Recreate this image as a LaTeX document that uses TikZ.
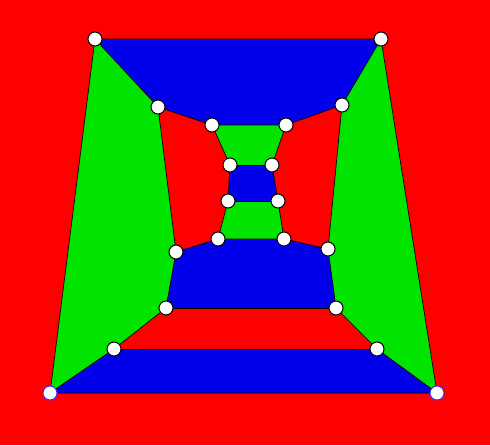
\documentclass[tikz,border=0pt]{standalone}
\usepackage{tikz}
\definecolor{mapred}{RGB}{255,0,0}
\definecolor{mapblue}{RGB}{0,0,235}
\definecolor{mapgreen}{RGB}{0,228,0}

\begin{document}
\begin{tikzpicture}[
    x=1pt, y=-1pt,
    vertex/.style={circle, draw, fill=white, line width=1pt, inner sep=0pt, minimum size=14pt},
    corner/.style={vertex, draw=blue!80},
    edge/.style={line width=0.7pt, black}
]

% Background
\fill[mapred] (0,0) rectangle (490,445);
\useasboundingbox (0,0) rectangle (490,445);

% Vertex positions
\coordinate (a) at (95,39);
\coordinate (f) at (381,39);
\coordinate (b) at (158,107);
\coordinate (g) at (342,105);
\coordinate (c) at (212,125);
\coordinate (h) at (286,125);
\coordinate (d) at (230,165);
\coordinate (i) at (272,165);
\coordinate (e) at (228,201);
\coordinate (j) at (278,201);
\coordinate (l) at (218,239);
\coordinate (p) at (284,239);
\coordinate (k) at (176,252);
\coordinate (q) at (328,249);
\coordinate (m) at (166,308);
\coordinate (r) at (336,308);
\coordinate (n) at (114,349);
\coordinate (s) at (377,349);
\coordinate (o) at (50,393);
\coordinate (t) at (437,393);

% Faces
\fill[mapblue] (a) -- (f) -- (g) -- (h) -- (c) -- (b) -- cycle;
\fill[mapgreen] (a) -- (b) -- (k) -- (m) -- (n) -- (o) -- cycle;
\fill[mapgreen] (f) -- (g) -- (q) -- (r) -- (s) -- (t) -- cycle;
\fill[mapblue] (o) -- (n) -- (s) -- (t) -- cycle;
\fill[mapblue] (k) -- (l) -- (p) -- (q) -- (r) -- (m) -- cycle;
\fill[mapgreen] (c) -- (h) -- (i) -- (d) -- cycle;
\fill[mapblue] (d) -- (i) -- (j) -- (e) -- cycle;
\fill[mapgreen] (e) -- (j) -- (p) -- (l) -- cycle;

% Edges
\draw[edge] (a) -- (f) -- (t) -- (o) -- (a);
\draw[edge] (a) -- (b) -- (c) -- (h) -- (g) -- (f);
\draw[edge] (b) -- (k) -- (m) -- (n) -- (o);
\draw[edge] (g) -- (q) -- (r) -- (s) -- (t);
\draw[edge] (n) -- (s);
\draw[edge] (m) -- (r);
\draw[edge] (k) -- (l) -- (p) -- (q);
\draw[edge] (c) -- (d) -- (e) -- (l);
\draw[edge] (h) -- (i) -- (j) -- (p);
\draw[edge] (d) -- (i);
\draw[edge] (e) -- (j);

% Vertices
\foreach \v in {a,f,b,g,c,h,d,i,e,j,l,p,k,q,m,r,n,s}
    \node[vertex] (\v v) at (\v) {};
\node[corner] (ov) at (o) {};
\node[corner] (tv) at (t) {};

\end{tikzpicture}
\end{document}
